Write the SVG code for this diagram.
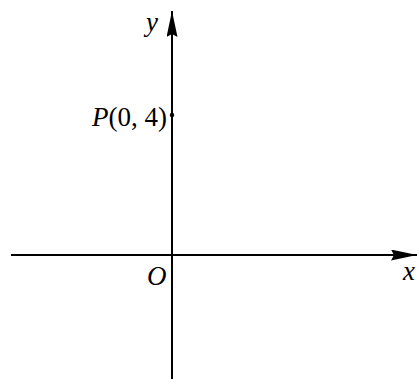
<svg xmlns="http://www.w3.org/2000/svg" width="417" height="379" viewBox="0 0 417 379">
<style>
.ax{stroke:#000;stroke-width:2;fill:none}
.t{font-family:"Liberation Serif",serif;font-size:27px;fill:#000}
.i{font-style:italic}
</style>
<defs>
<marker id="ah" markerWidth="26" markerHeight="11" refX="26" refY="5.5" orient="auto" markerUnits="userSpaceOnUse">
<path d="M0,0 L26,5.5 L0,11 L3,5.5 Z" fill="#000"/>
</marker>
</defs>
<g id="connectors">
<line class="ax" x1="11" y1="255" x2="417" y2="255" marker-end="url(#ah)"/>
<line class="ax" x1="172" y1="379" x2="172" y2="11" marker-end="url(#ah)"/>
</g>
<g id="P">
<circle cx="172" cy="115" r="2.2" fill="#000"/>
<text class="t" x="167" y="126" text-anchor="end"><tspan class="i">P</tspan>(0, 4)</text>
</g>
<g id="y-label"><text class="t i" x="146" y="31">y</text></g>
<g id="x-label"><text class="t i" x="403" y="280">x</text></g>
<g id="O-label"><text class="t i" x="147" y="285">O</text></g>
</svg>
